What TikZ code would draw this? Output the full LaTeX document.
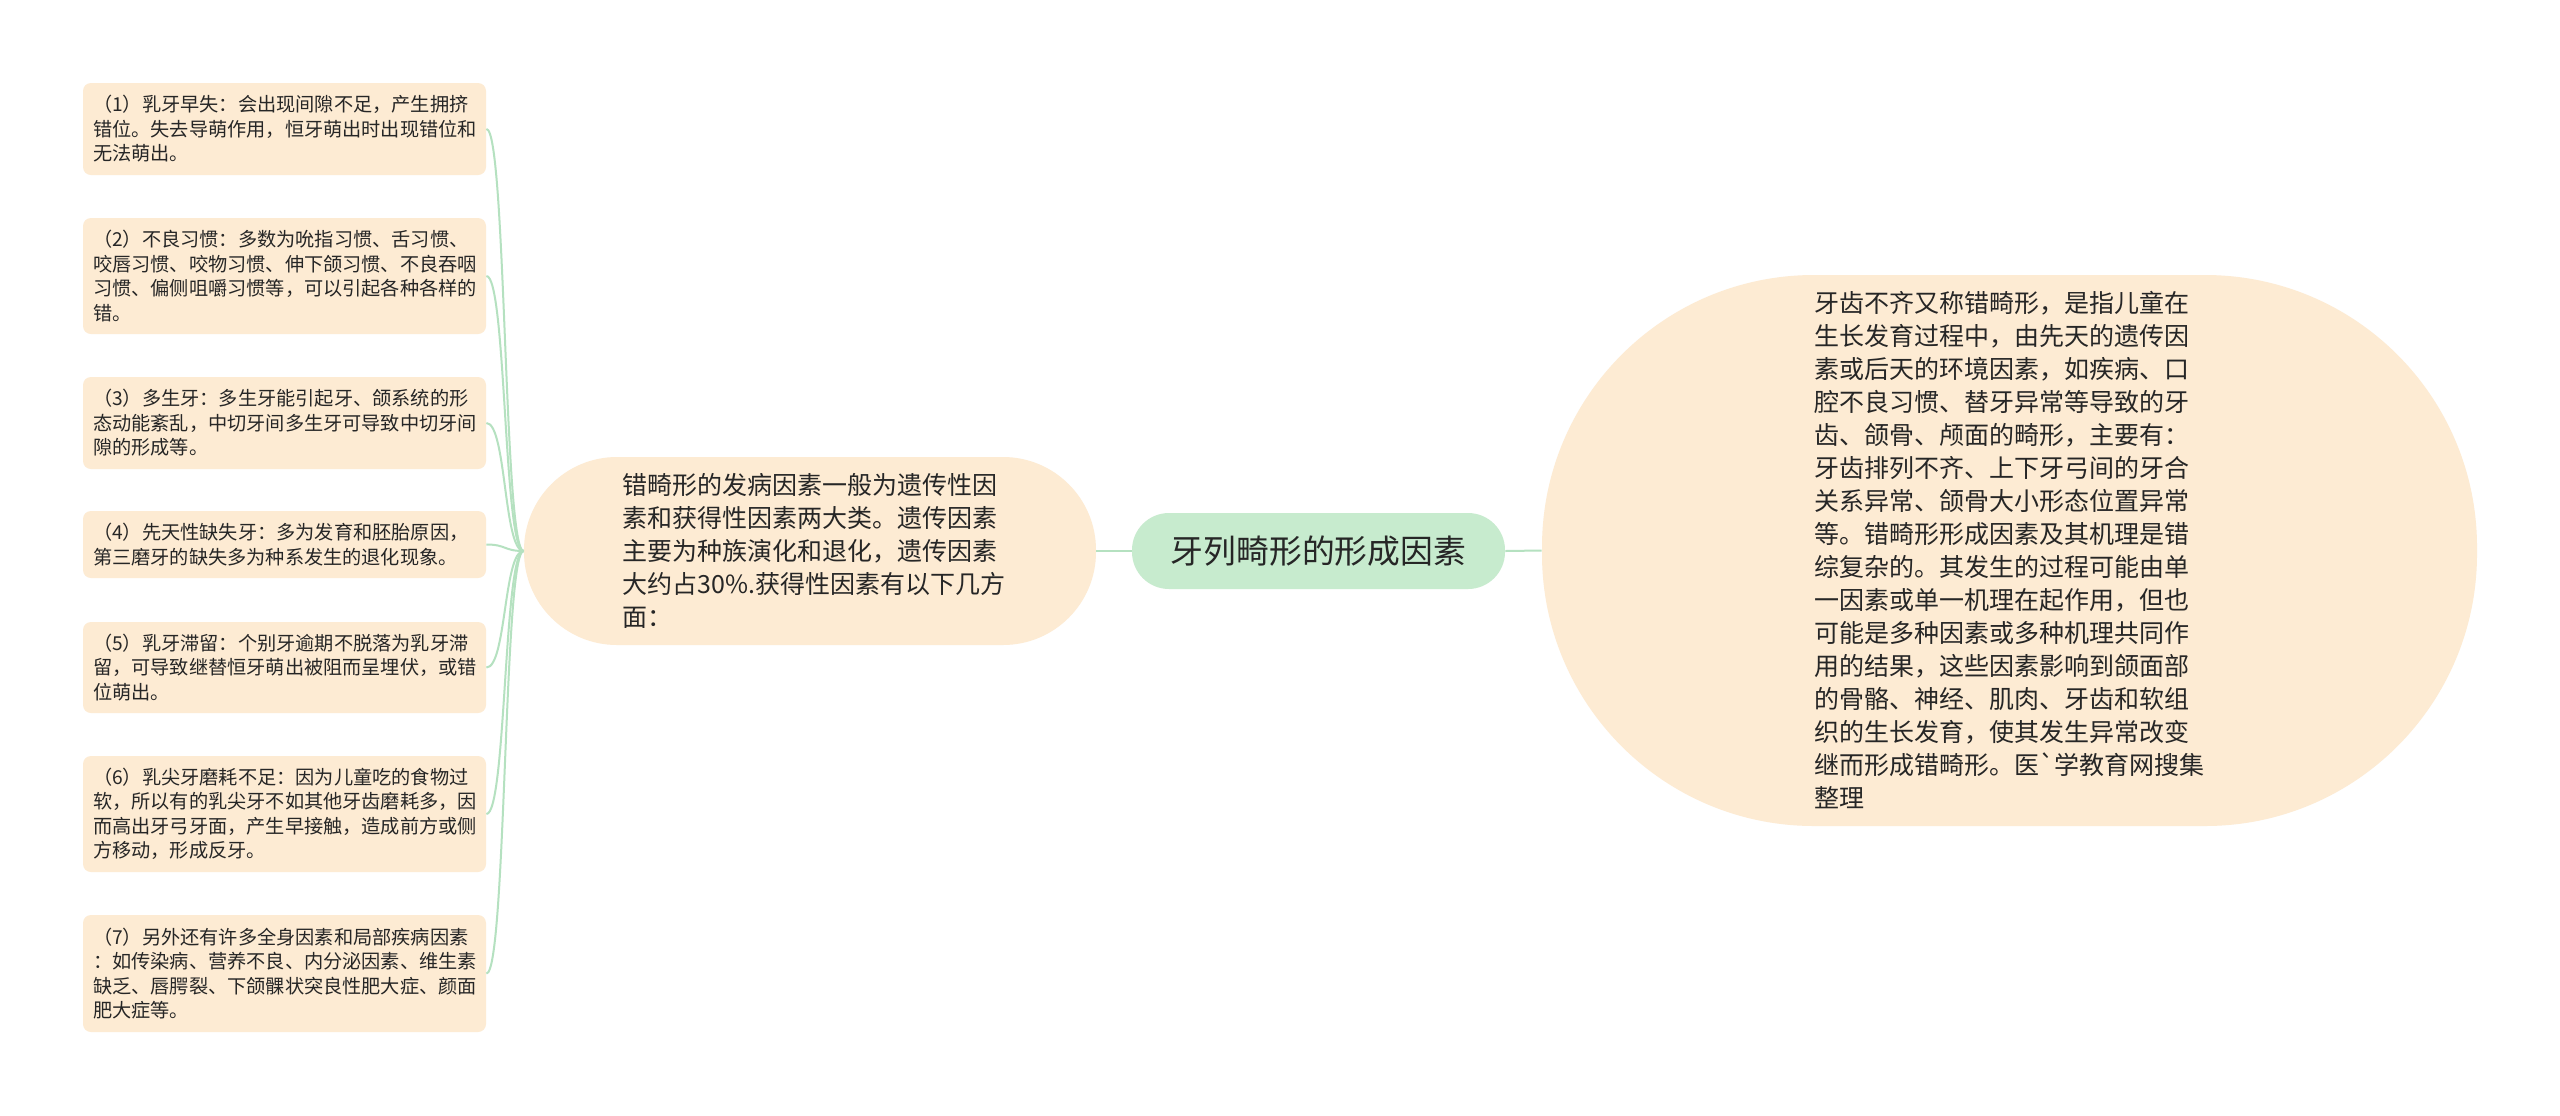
\documentclass[tikz,border=0pt]{standalone}
\usepackage{fontspec}
\newfontfamily\cjk{Noto Sans CJK SC}
\definecolor{peach}{HTML}{FDEBD3}
\definecolor{rootgreen}{HTML}{C7EBCE}
\definecolor{linegreen}{HTML}{B5E1C0}
\definecolor{txt}{HTML}{262626}
\tikzset{
  leaf/.style={fill=peach, rounded corners=4pt, text width=191.5pt, align=left,
    inner xsep=5pt, inner ysep=0pt, font=\cjk\fontsize{9.6pt}{12.25pt}\selectfont, text=txt},
  midbox/.style={fill=peach, rounded corners=46.5pt, minimum width=286pt, minimum height=94pt,
    text width=187.5pt, align=left, inner sep=0pt, font=\cjk\fontsize{12.5pt}{16.5pt}\selectfont, text=txt},
  bigbox/.style={fill=peach, rounded corners=136pt, minimum width=467.5pt, minimum height=275.5pt,
    text width=195pt, align=left, inner sep=0pt, font=\cjk\fontsize{12.5pt}{16.5pt}\selectfont, text=txt},
  rootbox/.style={fill=rootgreen, rounded corners=18.5pt, minimum width=186.5pt, minimum height=38pt,
    inner sep=0pt, font=\cjk\fontsize{16.4pt}{20pt}\selectfont, text=txt},
  conn/.style={draw=linegreen, line width=1pt}
}
\begin{document}
\begin{tikzpicture}[x=0.5pt,y=-0.5pt]
\useasboundingbox[fill=white] (0,0) rectangle (2560,1115);

\node[rootbox] (root) at (1318.5,551) {牙列畸形的形成因素};

\node[midbox] (mid) at (810,551) {错畸形的发病因素一般为遗传性因\\
素和获得性因素两大类。遗传因素\\
主要为种族演化和退化，遗传因素\\
大约占30\%.获得性因素有以下几方\\
面：};

\node[bigbox] (big) at (2009.5,550.5) {牙齿不齐又称错畸形，是指儿童在\\
生长发育过程中，由先天的遗传因\\
素或后天的环境因素，如疾病、口\\
腔不良习惯、替牙异常等导致的牙\\
齿、颌骨、颅面的畸形，主要有：\\
牙齿排列不齐、上下牙弓间的牙合\\
关系异常、颌骨大小形态位置异常\\
等。错畸形形成因素及其机理是错\\
综复杂的。其发生的过程可能由单\\
一因素或单一机理在起作用，但也\\
可能是多种因素或多种机理共同作\\
用的结果，这些因素影响到颌面部\\
的骨骼、神经、肌肉、牙齿和软组\\
织的生长发育，使其发生异常改变\\
继而形成错畸形。医\char96学教育网搜集\\
整理};

\node[leaf, minimum height=46pt] (c1) at (284.5,129) {（1）乳牙早失：会出现间隙不足，产生拥挤\\
错位。失去导萌作用，恒牙萌出时出现错位和\\
无法萌出。};
\node[leaf, minimum height=58pt] (c2) at (284.5,276) {（2）不良习惯：多数为吮指习惯、舌习惯、\\
咬唇习惯、咬物习惯、伸下颌习惯、不良吞咽\\
习惯、偏侧咀嚼习惯等，可以引起各种各样的\\
错。};
\node[leaf, minimum height=46pt] (c3) at (284.5,423) {（3）多生牙：多生牙能引起牙、颌系统的形\\
态动能紊乱，中切牙间多生牙可导致中切牙间\\
隙的形成等。};
\node[leaf, minimum height=33.5pt] (c4) at (284.5,544.5) {（4）先天性缺失牙：多为发育和胚胎原因，\\
第三磨牙的缺失多为种系发生的退化现象。};
\node[leaf, minimum height=45.5pt] (c5) at (284.5,667.5) {（5）乳牙滞留：个别牙逾期不脱落为乳牙滞\\
留，可导致继替恒牙萌出被阻而呈埋伏，或错\\
位萌出。};
\node[leaf, minimum height=58pt] (c6) at (284.5,814) {（6）乳尖牙磨耗不足：因为儿童吃的食物过\\
软，所以有的乳尖牙不如其他牙齿磨耗多，因\\
而高出牙弓牙面，产生早接触，造成前方或侧\\
方移动，形成反牙。};
\node[leaf, minimum height=58.5pt] (c7) at (284.5,973.5) {（7）另外还有许多全身因素和局部疾病因素\\
：如传染病、营养不良、内分泌因素、维生素\\
缺乏、唇腭裂、下颌髁状突良性肥大症、颜面\\
肥大症等。};

\draw[conn] (root.west) -- (mid.east);
\draw[conn] (root.east) -- (big.west);
\foreach \c in {c1,c2,c3,c4,c5,c6,c7}{
  \draw[conn] (mid.west) .. controls +(-20,0) and +(20,0) .. (\c.east);
}
\end{tikzpicture}
\end{document}
